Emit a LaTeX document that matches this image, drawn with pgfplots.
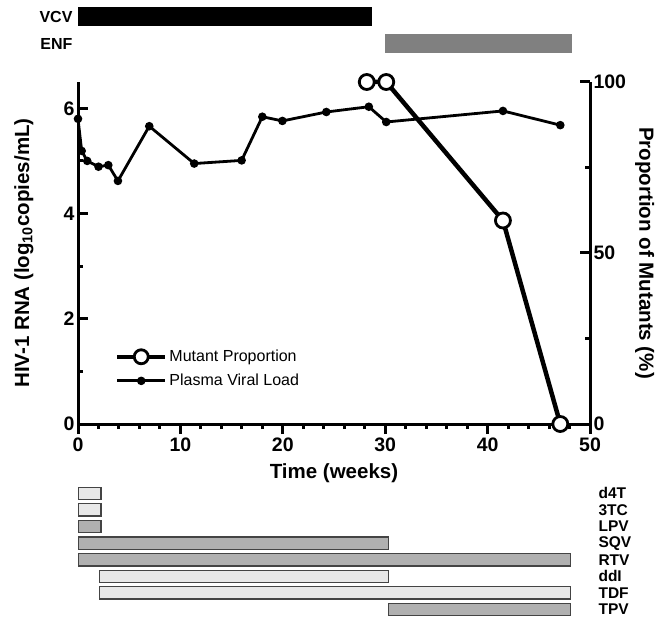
\documentclass[border=0pt]{standalone}
\usepackage{fontspec}
\setmainfont{Liberation Sans}
\usepackage{pgfplots}
\usepackage{pgfplotstable}
\pgfplotsset{compat=1.18}

% plasma viral load, log10 copies/mL
\pgfplotstableread{
wk    vl
0     5.80
0.36  5.19
0.9   5.00
2.0   4.89
2.96  4.92
3.9   4.62
6.96  5.66
11.35 4.95
15.98 5.01
18.0  5.84
19.96 5.76
24.25 5.93
28.4  6.03
30.1  5.74
41.5  5.95
47.1  5.68
}\viral

% proportion of mutants, %
\pgfplotstableread{
wk    pct
28.2  100
30.1  100
41.5  59.5
47.1  0
}\mutant

% top drug bars: offset, black part, grey part
\pgfplotstableread{
pos start vcv enf
1   0     28.7 0
2   30.0  0    18.2
}\topbars

% bottom drug bars: offset, light part, grey part
\pgfplotstableread{
pos start light grey
1   0     2.25  0
2   0     2.25  0
3   0     0     2.25
4   0     0     30.3
5   0     0     48.1
6   2.1   28.2  0
7   2.1   46.0  0
8   30.3  0     17.8
}\botbars

\definecolor{barlight}{HTML}{E8E8E8}
\definecolor{bargrey}{HTML}{B0B0B0}
\definecolor{baredge}{HTML}{444444}
\definecolor{enfgrey}{HTML}{808080}

\pgfplotsset{
  base/.style={scale only axis, width=512pt, xmin=0, xmax=50,
    /pgf/number format/assume math mode=true,
    ticklabel style={font=\fontsize{19.5}{19.5}\selectfont\bfseries},
    label style={font=\fontsize{20.5}{20.5}\selectfont\bfseries},
    axis line style={line width=3pt},
    tick style={line width=3pt, black},
    major tick length=10pt, minor tick length=5pt},
  barax/.style={scale only axis, width=512pt, xmin=0, xmax=50,
    y dir=reverse, xbar stacked, axis line style={draw=none},
    xtick=\empty, tick style={draw=none}, major tick length=0pt},
}

\begin{document}
\begin{tikzpicture}
\useasboundingbox (0pt,0pt) rectangle (660pt,-617pt);

% main axis: viral load
\begin{axis}[base, at={(78pt,-424pt)}, anchor=south west, height=342pt,
  ymin=0, ymax=6.5,
  axis x line*=bottom, axis y line*=left,
  xtick={0,10,...,50}, minor x tick num=4, xtick align=outside,
  ytick={0,2,4,6}, minor y tick num=1, ytick align=inside,
  xlabel={Time (weeks)},
  ylabel={HIV-1 RNA (log\textsubscript{10}copies/mL)},
  xlabel style={at={(axis description cs:0.5,-0.145)}, anchor=center},
  ylabel style={at={(axis description cs:-0.1055,0.5)}, anchor=center},
  legend style={at={(axis description cs:0.066,0.228)}, anchor=north west,
    draw=none, fill=none, font=\fontsize{16}{16}\selectfont, row sep=7pt},
  legend cell align=left,
  legend image code/.code={\draw[mark repeat=2,mark phase=2,#1]
    plot coordinates {(0pt,0pt) (24pt,0pt) (48pt,0pt)};},
]
\addlegendimage{black, line width=4.5pt, mark=*, mark size=7pt,
  mark options={fill=white, line width=2.8pt}}
\addlegendentry{Mutant Proportion}
\addplot[black, line width=2.8pt, mark=*, mark size=2.8pt] table[x=wk, y=vl] {\viral};
\addlegendentry{Plasma Viral Load}
\end{axis}

% right axis: mutant proportion
\begin{axis}[base, at={(78pt,-424pt)}, anchor=south west, height=342pt,
  ymin=0, ymax=100, clip=false,
  axis x line=none, axis y line*=right,
  ytick={0,50,100}, minor y tick num=1, ytick align=inside,
  ylabel={Proportion of Mutants (\%)},
  ylabel style={at={(axis description cs:1.107,0.5)}, anchor=center, rotate=180},
]
\addplot[black, line width=4.5pt, mark=*, mark size=7.5pt,
  mark options={fill=white, line width=2.8pt}] table[x=wk, y=pct] {\mutant};
\end{axis}

% VCV / ENF bars
\begin{axis}[barax, at={(78pt,-57pt)}, anchor=south west, height=54pt,
  ymin=0.5, ymax=2.5, bar width=19pt,
  ytick={1,2}, yticklabels={VCV,ENF},
  yticklabel style={font=\fontsize{16}{16}\selectfont\bfseries, xshift=-2pt},
]
\addplot[draw=none, fill=none] table[x=start, y=pos] {\topbars};
\addplot[draw=none, fill=black] table[x=vcv, y=pos] {\topbars};
\addplot[draw=none, fill=enfgrey] table[x=enf, y=pos] {\topbars};
\end{axis}

% background drug bars
\begin{axis}[barax, at={(78pt,-617.8pt)}, anchor=south west, height=132.8pt,
  ymin=0.5, ymax=8.5, bar width=12.3pt,
  ytick={1,...,8}, yticklabels={d4T,3TC,LPV,SQV,RTV,ddI,TDF,TPV},
  yticklabel pos=right,
  yticklabel style={font=\fontsize{15.5}{15.5}\selectfont\bfseries, anchor=west, xshift=5pt},
]
\addplot[draw=none, fill=none] table[x=start, y=pos] {\botbars};
\addplot[draw=baredge, line width=1.3pt, fill=barlight] table[x=light, y=pos] {\botbars};
\addplot[draw=baredge, line width=1.3pt, fill=bargrey] table[x=grey, y=pos] {\botbars};
\end{axis}
\end{tikzpicture}
\end{document}
